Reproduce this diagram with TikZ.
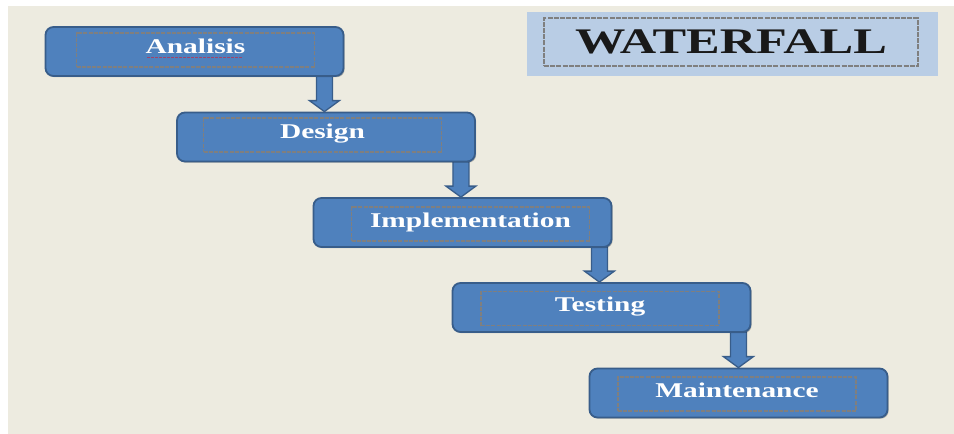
\documentclass[tikz,border=0pt]{standalone}
\usepackage{fontspec}
\usepackage{xcolor}
\usepackage{tikz}
\usetikzlibrary{calc}
\usetikzlibrary{shadows}
\usetikzlibrary{backgrounds}
\newfontfamily\boxfont[FakeStretch=1.4]{Liberation Serif}

\definecolor{bgbeige}{HTML}{EDEBE0}
\definecolor{boxblue}{HTML}{4F81BD}
\definecolor{boxedge}{HTML}{385D8A}
\definecolor{titleblue}{HTML}{B9CDE5}
\definecolor{innergray}{HTML}{7F7F7F}
\definecolor{spellred}{HTML}{A0446A}

\tikzset{
	phase/.style={rectangle,rounded corners=8pt,fill=boxblue,draw=boxedge,line width=1.8pt,
		minimum width=298pt,minimum height=49pt,inner sep=0pt,
		drop shadow={shadow xshift=1.2pt,shadow yshift=-1.2pt,fill=black,opacity=0.25}},
	phasetext/.style={rectangle,draw=innergray,line width=1.4pt,dash pattern=on 4pt off 1.2pt,
		minimum width=238pt,inner sep=0pt,text height=20pt,text depth=14pt,
		text=white,font=\boxfont\bfseries\fontsize{21}{21}\selectfont},
	flow/.style={fill=boxblue,draw=boxedge,line width=1.3pt,
		to path={($(\tikztostart)+(-8,0)$) -- ($(\tikztotarget)+(-8,-11)$) -- ($(\tikztotarget)+(-15,-11)$)
			-- (\tikztotarget) -- ($(\tikztotarget)+(15,-11)$) -- ($(\tikztotarget)+(8,-11)$)
			-- ($(\tikztostart)+(8,0)$) -- cycle}}
}

\begin{document}
\begin{tikzpicture}[x=1pt,y=-1pt]
	\useasboundingbox (0,0) rectangle (954,434);
	% title
	\node[rectangle,fill=titleblue,minimum width=411pt,minimum height=64pt,inner sep=0pt] (title) at (732.5,44) {};
	\node[rectangle,draw=innergray,line width=1.4pt,dash pattern=on 5pt off 1.2pt,
		minimum width=374pt,inner sep=0pt,text height=35pt,text depth=13pt,
		text=black!90,font=\boxfont\bfseries\fontsize{36}{36}\selectfont] (waterfall) at (731,42) {WATERFALL};
	% phases
	\node[phase] (analisis) at (194.5,51.5) {};
	\node[phasetext] (analisis-txt) at (195.5,50) {Analisis};
	\node[phase] (design) at (326,137) {};
	\node[phasetext] (design-txt) at (322.5,135) {Design};
	\node[phase] (implementation) at (462.5,222.5) {};
	\node[phasetext] (implementation-txt) at (470.5,224) {Implementation};
	\node[phase] (testing) at (601.5,307.5) {};
	\node[phasetext] (testing-txt) at (600,308.5) {Testing};
	\node[phase] (maintenance) at (738.5,393) {};
	\node[phasetext] (maintenance-txt) at (737,394) {Maintenance};
	\draw[spellred,line width=1.8pt,dash pattern=on 3pt off 1pt] (147,57.5) -- (243,57.5);
	% arrows between the phases
	\coordinate (f1) at ([xshift=-20pt,yshift=10pt]analisis.south east);
	\coordinate (f1end) at (f1 |- design.north);
	\coordinate (f2) at ([xshift=-15pt,yshift=10pt]design.south east);
	\coordinate (f2end) at (f2 |- implementation.north);
	\coordinate (f3) at ([xshift=-13pt,yshift=10pt]implementation.south east);
	\coordinate (f3end) at (f3 |- testing.north);
	\coordinate (f4) at ([xshift=-13pt,yshift=10pt]testing.south east);
	\coordinate (f4end) at (f4 |- maintenance.north);
	\begin{pgfonlayer}{background}
		\fill[bgbeige] (8,6) rectangle (954,434);
		\draw[flow] (f1) to (f1end);
		\draw[flow] (f2) to (f2end);
		\draw[flow] (f3) to (f3end);
		\draw[flow] (f4) to (f4end);
	\end{pgfonlayer}
\end{tikzpicture}
\end{document}
